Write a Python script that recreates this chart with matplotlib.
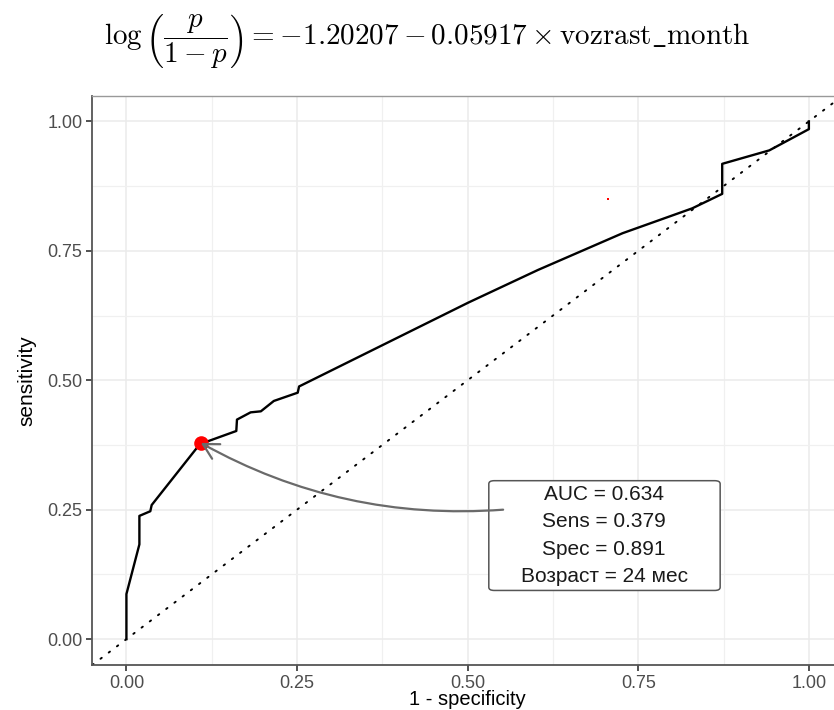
import matplotlib
matplotlib.use("Agg")
import matplotlib.pyplot as plt
from matplotlib.patches import FancyArrowPatch, FancyBboxPatch
from matplotlib.ticker import MultipleLocator

plt.rcParams['font.family'] = ['Liberation Sans', 'DejaVu Sans']
plt.rcParams['mathtext.fontset'] = 'cm'

# ROC curve (1 - specificity, sensitivity)
fpr = [0.0, 0.0, 0.019, 0.019, 0.035, 0.037, 0.109, 0.119, 0.161, 0.162, 0.182, 0.197,
       0.216, 0.251, 0.253, 0.377, 0.501, 0.603, 0.727, 0.829, 0.873, 0.873, 0.942, 1.0, 1.0]
tpr = [0.0, 0.087, 0.183, 0.238, 0.247, 0.259, 0.379, 0.382, 0.402, 0.424, 0.438, 0.440,
       0.460, 0.476, 0.488, 0.569, 0.650, 0.713, 0.784, 0.832, 0.860, 0.918, 0.944, 0.985, 1.0]

# optimal cut-off point
best_fpr = 0.109
best_tpr = 0.379
# stray point
stray_x = [0.706]
stray_y = [0.850]

label_lines = ["AUC = 0.634", "Sens = 0.379", "Spec = 0.891", "Возраст = 24 мес"]
label_x, label_y = 0.70, 0.20
ticks = [0.0, 0.25, 0.5, 0.75, 1.0]
tick_labels = ["0.00", "0.25", "0.50", "0.75", "1.00"]

W, H = 834, 710
fig = plt.figure(figsize=(W / 100, H / 100), dpi=100)
ax = fig.add_axes([92.3 / W, 45 / H, (843 - 92.3) / W, (665 - 95.5) / H])

ax.set_xlim(-0.05, 1.05)
ax.set_ylim(-0.05, 1.05)
ax.set_xticks(ticks)
ax.set_xticklabels(tick_labels)
ax.set_yticks(ticks)
ax.set_yticklabels(tick_labels)
ax.xaxis.set_minor_locator(MultipleLocator(0.125))
ax.yaxis.set_minor_locator(MultipleLocator(0.125))
ax.tick_params(which='minor', length=0)
ax.tick_params(which='major', length=4, width=1.2, color='#333333',
               labelsize=13, labelcolor='#4d4d4d', pad=3)
ax.grid(which='major', color='#ebebeb', lw=1.1)
ax.grid(which='minor', color='#f0f0f0', lw=0.9)
ax.set_axisbelow(True)

for s in ['left', 'bottom']:
    ax.spines[s].set_color('#555555')
    ax.spines[s].set_linewidth(1.3)
ax.spines['top'].set_color('#999999')
ax.spines['top'].set_linewidth(1.0)
ax.spines['right'].set_visible(False)

ax.axline((0, 0), slope=1, color='black', lw=1.4, linestyle=(0, (0.8, 4.5)),
          dash_capstyle='round', zorder=2)
ax.plot(fpr, tpr, color='black', lw=1.7, zorder=3)
ax.plot(stray_x, stray_y, 's', color='red', ms=1.8, mew=0, zorder=3)
ax.plot([best_fpr], [best_tpr], 'o', color='#ff0000', ms=10.5, mew=0, zorder=4)

arrow = FancyArrowPatch((0.552, 0.250), (best_fpr, best_tpr),
                        connectionstyle="arc3,rad=-0.15",
                        arrowstyle="->,head_length=1.1,head_width=0.6",
                        mutation_scale=10, color='#6a6a6a', lw=1.6,
                        shrinkA=0, shrinkB=0, zorder=5)
ax.add_patch(arrow)

box = FancyBboxPatch((0.531, 0.094), 0.339, 0.212,
                     boxstyle="round,pad=0,rounding_size=0.008",
                     fc='white', ec='#555555', lw=1.1, zorder=4, mutation_aspect=0.76)
ax.add_patch(box)
ax.text(label_x, label_y, "\n".join(label_lines), ha='center', va='center',
        fontsize=15, linespacing=1.55, color='#1a1a1a', zorder=6)

ax.set_xlabel("1 - specificity", fontsize=14.5, labelpad=-1)
ax.set_ylabel("sensitivity", fontsize=15, labelpad=8)

fig.text(427 / W, 1 - 42 / H,
         r"$\log\left(\dfrac{p}{1-p}\right) = -1.20207 - 0.05917 \times \mathrm{vozrast\_month}$",
         ha='center', va='center', fontsize=21)

fig.savefig("out.png", dpi=100)
